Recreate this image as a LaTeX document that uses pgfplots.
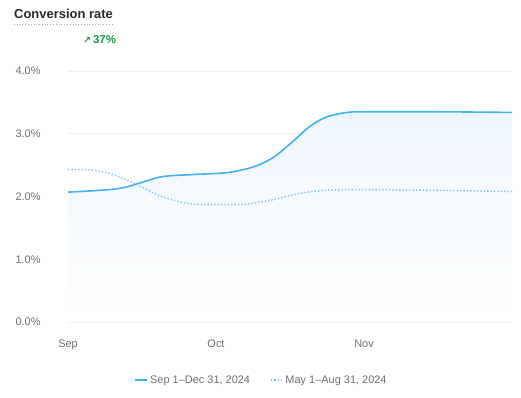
\documentclass[border=0pt]{standalone}
\usepackage{pgfplots}
\pgfplotsset{compat=1.18}
\usepackage{fontspec}
\setmainfont{Liberation Sans}
\newfontfamily\dejavu{DejaVu Sans}
\definecolor{linec}{RGB}{64,178,238}
\definecolor{dotc}{RGB}{125,197,240}
\definecolor{fillc}{RGB}{238,246,253}
\definecolor{gridc}{RGB}{238,238,238}
\definecolor{tickc}{RGB}{110,110,110}
\definecolor{titlec}{RGB}{40,40,40}
\definecolor{greenc}{RGB}{24,150,72}
\pgfplotstableread{
x v
0.000 2.07
0.351 2.13
0.622 2.31
0.845 2.35
1.074 2.38
1.250 2.47
1.385 2.62
1.520 2.88
1.635 3.12
1.750 3.27
1.885 3.34
2.000 3.35
2.500 3.35
3.000 3.34
}\cur
\pgfplotstableread{
x v
0.000 2.43
0.169 2.42
0.304 2.35
0.466 2.19
0.622 2.01
0.804 1.89
0.980 1.87
1.209 1.88
1.385 1.95
1.568 2.05
1.750 2.10
2.000 2.11
2.426 2.10
3.000 2.08
}\prev
\begin{document}
\begin{tikzpicture}[x=1bp,y=1bp]
\useasboundingbox (0,0) rectangle (521,397);
\node[anchor=west, inner sep=0, font=\fontsize{13}{15}\selectfont\bfseries, text=titlec] at (14,383) {Conversion rate};
\draw[tickc!60, dotted, line width=0.8pt] (14,373) -- (113,373);
\node[anchor=west, inner sep=0, font=\fontsize{11.5}{13}\selectfont\bfseries, text=greenc] at (83,357) {{\dejavu\fontsize{9.5}{10}\selectfont ↗}\,37\%};
\begin{axis}[
  at={(68bp,75bp)}, anchor=south west,
  scale only axis, width=444bp, height=251bp,
  xmin=0, xmax=3, ymin=0, ymax=4,
  axis line style={draw=none},
  ytick={0,1,2,3,4},
  yticklabels={0.0\%,1.0\%,2.0\%,3.0\%,4.0\%},
  xtick={0,1,2},
  xticklabels={Sep,Oct,Nov},
  major tick length=0pt,
  ymajorgrids, grid style={gridc, line width=0.8pt},
  tick label style={font=\fontsize{11}{13}\selectfont, text=tickc},
  yticklabel style={anchor=west, xshift=-56bp},
  xticklabel style={yshift=-14bp},
  legend style={at={(0.436,-0.231)}, anchor=center, draw=none, fill=none,
    legend columns=2, font=\fontsize{11}{13}\selectfont, text=tickc,
    /tikz/every even column/.append style={column sep=18bp}},
  legend image code/.code={\draw[#1] (0bp,0bp) -- (12bp,0bp);},
  clip=false,
]
\addplot[draw=none, top color=fillc, bottom color=white, smooth, forget plot] table[x=x,y=v] {\cur} \closedcycle;
\addplot[linec, line width=1.6pt, smooth] table[x=x,y=v] {\cur};
\addlegendentry{Sep 1–Dec 31, 2024}
\addplot[dotc, line width=1.4pt, dotted, smooth] table[x=x,y=v] {\prev};
\addlegendentry{May 1–Aug 31, 2024}
\end{axis}
\end{tikzpicture}
\end{document}
